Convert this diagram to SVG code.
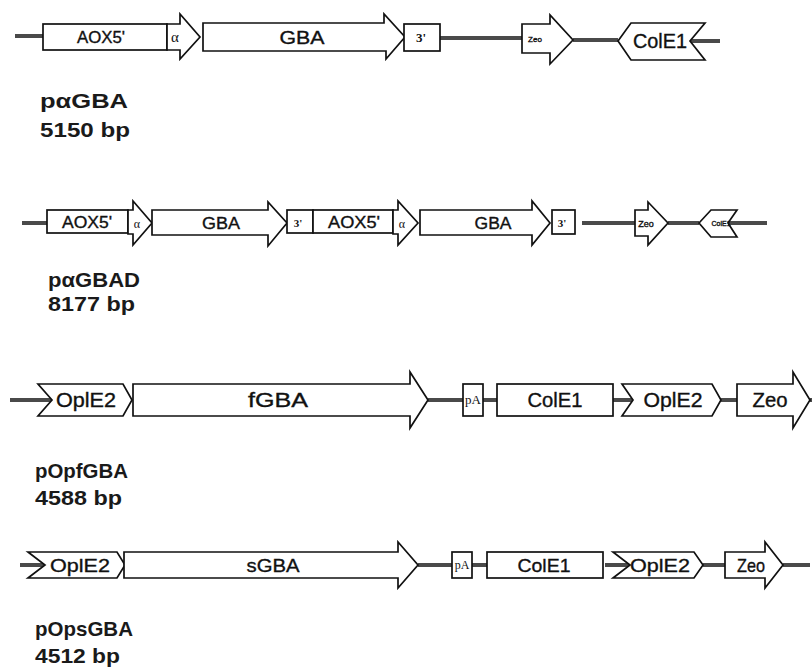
<svg xmlns="http://www.w3.org/2000/svg" width="812" height="671" viewBox="0 0 812 671">
<style>
.s{fill:#fff;stroke:#111;stroke-width:1.7;stroke-linejoin:miter}
.c{stroke:#4a4a4a;stroke-width:4;fill:none}
.t{font-family:"Liberation Sans",Arial,sans-serif;fill:#111;stroke:#111;stroke-width:0.35;text-anchor:middle}
.r{font-family:"Liberation Serif","Times New Roman",serif;fill:#111;text-anchor:middle}
.l{font-family:"Liberation Sans",Arial,sans-serif;fill:#1a1a1a;font-size:21px;font-weight:bold}
</style>
<rect width="812" height="671" fill="#fff"/>
<g id="connectors">
<line class="c" x1="15" y1="36" x2="43" y2="36"/>
<line class="c" x1="440" y1="38" x2="522" y2="38"/>
<line class="c" x1="573" y1="40" x2="618" y2="40"/>
<line class="c" x1="690" y1="41" x2="720" y2="41"/>
<line class="c" x1="22" y1="223" x2="47" y2="223"/>
<line class="c" x1="582" y1="223" x2="635" y2="223" stroke="#6a6a6a"/>
<line class="c" x1="668" y1="223" x2="699" y2="223"/>
<line class="c" x1="728" y1="223" x2="767" y2="223"/>
<line class="c" x1="10" y1="400" x2="52" y2="400"/>
<line class="c" x1="428" y1="400" x2="463" y2="400"/>
<line class="c" x1="483" y1="400" x2="497" y2="400" stroke-width="2"/>
<line class="c" x1="613" y1="400" x2="633" y2="400"/>
<line class="c" x1="720" y1="400" x2="737" y2="400"/>
<line class="c" x1="810" y1="400" x2="812" y2="400"/>
<line class="c" x1="20" y1="565" x2="45" y2="565"/>
<line class="c" x1="418" y1="565" x2="452" y2="565"/>
<line class="c" x1="472" y1="565" x2="487" y2="565" stroke-width="2"/>
<line class="c" x1="605" y1="565" x2="630" y2="565"/>
<line class="c" x1="703" y1="565" x2="725" y2="565"/>
<line class="c" x1="783" y1="565" x2="810" y2="565"/>
</g>

<!-- Row 1 -->
<g id="r1-aox5"><rect class="s" x="43" y="24" width="124" height="26"/><text class="t" x="101" y="43" font-size="16" textLength="48" lengthAdjust="spacingAndGlyphs">AOX5'</text></g>
<g id="r1-alpha"><polygon class="s" points="167,24 180,24 180,14 200,37 180,59 180,50 167,50"/><text class="r" x="175" y="42" font-size="15">α</text></g>
<g id="r1-gba"><polygon class="s" points="203,23 384,23 384,14 405,37 386,59 386,51 203,51"/><text class="t" x="302" y="44" font-size="18" textLength="45" lengthAdjust="spacingAndGlyphs">GBA</text></g>
<g id="r1-3"><rect class="s" x="404" y="24" width="36" height="27"/><text class="r" x="421" y="42" font-size="13" font-weight="bold">3'</text></g>
<g id="r1-zeo"><polygon class="s" points="522,24 550,24 550,15 573,40 550,64 550,53 522,53"/><text class="t" x="535" y="42" font-size="8" stroke-width="0.2">Zeo</text></g>
<g id="r1-cole1"><polygon class="s" points="618,41 631,23 705,23 690,41 705,60 631,60"/><text class="t" x="660" y="48" font-size="20" textLength="54" lengthAdjust="spacingAndGlyphs">ColE1</text></g>
<g id="r1-label"><text class="l" x="40" y="108" textLength="88" lengthAdjust="spacingAndGlyphs">pαGBA</text><text class="l" x="40" y="137" textLength="90" lengthAdjust="spacingAndGlyphs">5150 bp</text></g>

<!-- Row 2 -->
<g id="r2-aox5a"><rect class="s" x="47" y="210" width="81" height="23"/><text class="t" x="87" y="228" font-size="16" textLength="50" lengthAdjust="spacingAndGlyphs">AOX5'</text></g>
<g id="r2-alpha-a"><polygon class="s" points="128,210 133,210 133,201 152,223 133,245 133,234 128,234"/><text class="r" x="137" y="228" font-size="12">α</text></g>
<g id="r2-gba-a"><polygon class="s" points="152,210 268,210 268,202 287,223 268,246 268,235 152,235"/><text class="t" x="221" y="229" font-size="17" textLength="38" lengthAdjust="spacingAndGlyphs">GBA</text></g>
<g id="r2-3a"><rect class="s" x="287" y="210" width="26" height="23"/><text class="r" x="298" y="227" font-size="11" font-weight="bold">3'</text></g>
<g id="r2-aox5b"><rect class="s" x="313" y="210" width="80" height="23"/><text class="t" x="354" y="228" font-size="16" textLength="52" lengthAdjust="spacingAndGlyphs">AOX5'</text></g>
<g id="r2-alpha-b"><polygon class="s" points="393,210 398,210 398,201 418,223 398,245 398,234 393,234"/><text class="r" x="402" y="228" font-size="12">α</text></g>
<g id="r2-gba-b"><polygon class="s" points="420,210 532,210 532,201 550,223 532,245 532,235 420,235"/><text class="t" x="493" y="229" font-size="17" textLength="37" lengthAdjust="spacingAndGlyphs">GBA</text></g>
<g id="r2-3b"><rect class="s" x="552" y="210" width="23" height="24"/><text class="r" x="562" y="227" font-size="11" font-weight="bold">3'</text></g>
<g id="r2-zeo"><polygon class="s" points="635,210 648,210 648,202 668,223 648,245 648,236 635,236"/><text class="t" x="646" y="227" font-size="9" stroke-width="0.2">Zeo</text></g>
<g id="r2-cole1"><polygon class="s" points="699,223 711,210 737,210 728,223 737,237 711,237"/><text class="t" x="721" y="226" font-size="7" stroke-width="0.2">ColE1</text></g>
<g id="r2-label"><text class="l" x="48" y="287" textLength="92" lengthAdjust="spacingAndGlyphs">pαGBAD</text><text class="l" x="48" y="311" textLength="87" lengthAdjust="spacingAndGlyphs">8177 bp</text></g>

<!-- Row 3 -->
<g id="r3-ople2a"><polygon class="s" points="38,384 123,384 132,400 123,416 38,416 52,400"/><text class="t" x="86" y="407" font-size="20" textLength="60" lengthAdjust="spacingAndGlyphs">OplE2</text></g>
<g id="r3-fgba"><polygon class="s" points="133,384 410,384 410,372 428,400 410,428 410,416 133,416"/><text class="t" x="278" y="407" font-size="20" textLength="60" lengthAdjust="spacingAndGlyphs">fGBA</text></g>
<g id="r3-pa"><rect class="s" x="463" y="384" width="20" height="32"/><text class="r" x="473" y="404" font-size="13">pA</text></g>
<g id="r3-cole1"><rect class="s" x="497" y="384" width="116" height="32"/><text class="t" x="555" y="407" font-size="20" textLength="55" lengthAdjust="spacingAndGlyphs">ColE1</text></g>
<g id="r3-ople2b"><polygon class="s" points="622,384 712,384 721,400 712,416 622,416 633,400"/><text class="t" x="673" y="407" font-size="20" textLength="59" lengthAdjust="spacingAndGlyphs">OplE2</text></g>
<g id="r3-zeo"><polygon class="s" points="737,384 793,384 793,372 810,400 793,428 793,416 737,416"/><text class="t" x="770" y="407" font-size="20" textLength="35" lengthAdjust="spacingAndGlyphs">Zeo</text></g>
<g id="r3-label"><text class="l" x="35" y="478" textLength="93" lengthAdjust="spacingAndGlyphs">pOpfGBA</text><text class="l" x="35" y="505" textLength="87" lengthAdjust="spacingAndGlyphs">4588 bp</text></g>

<!-- Row 4 -->
<g id="r4-ople2a"><polygon class="s" points="28,552 117,552 125,565 117,578 28,578 45,565"/><text class="t" x="80" y="572" font-size="19" textLength="60" lengthAdjust="spacingAndGlyphs">OplE2</text></g>
<g id="r4-sgba"><polygon class="s" points="124,552 398,552 398,542 418,565 398,588 398,578 124,578"/><text class="t" x="273" y="572" font-size="19" textLength="53" lengthAdjust="spacingAndGlyphs">sGBA</text></g>
<g id="r4-pa"><rect class="s" x="452" y="552" width="20" height="26"/><text class="r" x="462" y="569" font-size="12">pA</text></g>
<g id="r4-cole1"><rect class="s" x="487" y="552" width="116" height="26"/><text class="t" x="544" y="572" font-size="19" textLength="53" lengthAdjust="spacingAndGlyphs">ColE1</text></g>
<g id="r4-ople2b"><polygon class="s" points="613,552 694,552 703,565 694,578 613,578 630,565"/><text class="t" x="660" y="572" font-size="19" textLength="60" lengthAdjust="spacingAndGlyphs">OplE2</text></g>
<g id="r4-zeo"><polygon class="s" points="725,552 765,552 765,542 783,565 765,588 765,578 725,578"/><text class="t" x="751" y="572" font-size="19" textLength="28" lengthAdjust="spacingAndGlyphs">Zeo</text></g>
<g id="r4-label"><text class="l" x="35" y="636" textLength="98" lengthAdjust="spacingAndGlyphs">pOpsGBA</text><text class="l" x="35" y="663" textLength="85" lengthAdjust="spacingAndGlyphs">4512 bp</text></g>
</svg>
